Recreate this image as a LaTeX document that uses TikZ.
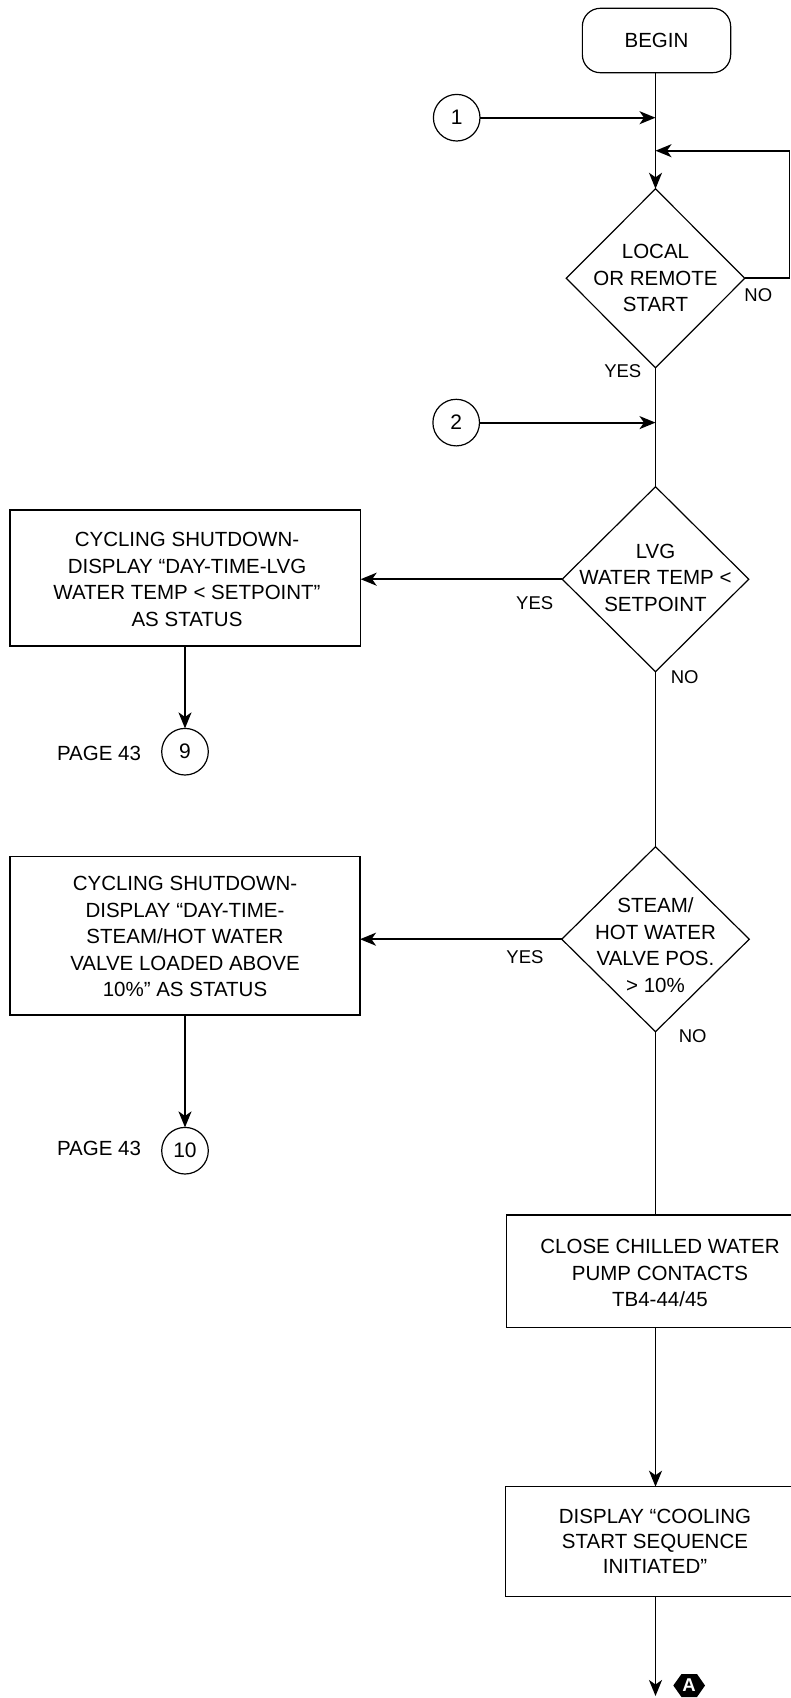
\documentclass[tikz,border=0pt]{standalone}
\usepackage{fontspec}
\setmainfont{Liberation Sans}
\usetikzlibrary{shapes.geometric,arrows.meta}
\begin{document}
\begin{tikzpicture}[x=1pt,y=-1pt,
  every node/.style={inner sep=0pt, outer sep=0pt},
  txt/.style={align=center, font=\fontsize{20.5}{26.5}\selectfont},
  txtb/.style={align=center, font=\fontsize{20.5}{25}\selectfont},
  lbl/.style={font=\fontsize{18.5}{22}\selectfont},
  boxs/.style={draw, line width=1.2pt, rectangle},
  dia/.style={draw, line width=1.2pt, diamond, shape aspect=1},
  circ/.style={draw, line width=1.2pt, circle, minimum size=46.6pt, font=\fontsize{21}{24}\selectfont},
  conn/.style={line width=1.8pt, -{Stealth[length=16pt,width=13pt,inset=4.5pt]}},
  plain/.style={line width=1.8pt},
]
\useasboundingbox (0,0) rectangle (791,1698);
\clip (0,0) rectangle (791,1698);

% top part
\node[boxs, rounded corners=18pt, minimum width=148.3pt, minimum height=64.4pt, txt] (begin) at (656.5,40.5) {BEGIN};
\node[circ] (c1) at (456.7,117.7) {1};
\coordinate (j1) at (655.5,117.7);
\coordinate (j2) at (655.5,150.7);
\node[dia, minimum width=178.5pt, minimum height=179pt] (d1) at (655.5,278.3) {};
\node[txt] (d1t) at (655.5,278.3) {LOCAL\\OR REMOTE\\START};
\coordinate (loopR) at (789.5,278.3);
\node[lbl] (no1) at (758.3,295) {NO};
\node[lbl] (yes1) at (622.8,370.7) {YES};

\draw[conn] (begin.south -| j1) -- (d1.north);
\draw[conn] (c1.east) -- (j1);
\draw[conn] (d1.east) -- (loopR) |- (j2);

% second decision
\node[circ] (c2) at (456.2,422.6) {2};
\coordinate (j3) at (655.5,422.6);
\draw[conn] (c2.east) -- (j3);
\node[dia, minimum width=186.5pt, minimum height=185pt] (d2) at (655.5,579.2) {};
\node[txt] (d2t) at (655.5,577.5) {LVG\\WATER TEMP <\\SETPOINT};
\draw[plain] (d1.south) -- (d2.north);
\node[lbl] (yes2) at (534.7,603.3) {YES};
\node[lbl] (no2) at (684.7,676.7) {NO};

\node[boxs, minimum width=350.7pt, minimum height=136pt] (b1) at (185.3,578) {};
\node[txt] (b1t) at (187,579.5) {CYCLING SHUTDOWN-\\DISPLAY “DAY-TIME-LVG\\WATER TEMP < SETPOINT”\\AS STATUS};
\draw[conn] (d2.west) -- (b1.east |- d2.west);
\node[circ] (c9) at (185,751.7) {9};
\draw[conn] (b1.south -| c9) -- (c9.north);
\node[txt, anchor=east] (p9) at (141,753) {PAGE 43};

% third decision
\node[dia, minimum width=187.5pt, minimum height=185pt] (d3) at (655.5,939.2) {};
\node[txt] (d3t) at (655.5,945) {STEAM/\\HOT WATER\\VALVE POS.\\> 10\%};
\draw[plain] (d2.south) -- (d3.north);
\node[lbl] (yes3) at (525,956.7) {YES};
\node[lbl] (no3) at (692.7,1036) {NO};

\node[boxs, minimum width=350pt, minimum height=158.3pt] (b2) at (185,935.8) {};
\node[txt] (b2t) at (185,936.6) {CYCLING SHUTDOWN-\\DISPLAY “DAY-TIME-\\STEAM/HOT WATER\\VALVE LOADED ABOVE\\10\%” AS STATUS};
\draw[conn] (d3.west) -- (b2.east |- d3.west);
\node[circ] (c10) at (185,1150.7) {10};
\draw[conn] (b2.south -| c10) -- (c10.north);
\node[txt, anchor=east] (p10) at (141,1148.3) {PAGE 43};

% bottom boxes
\node[boxs, minimum width=306.3pt, minimum height=112.7pt] (b3) at (659.9,1271.4) {};
\node[txt] (b3t) at (660,1273.3) {CLOSE CHILLED WATER\\PUMP CONTACTS\\TB4-44/45};
\draw[plain] (d3.south) -- (d3.south |- b3.north);

\node[boxs, minimum width=299.3pt, minimum height=110pt] (b4) at (655.4,1541.7) {};
\node[txtb] (b4t) at (655,1541.7) {DISPLAY “COOLING\\START SEQUENCE\\INITIATED”};
\draw[conn] (b3.south -| d3.south) -- (b4.north -| d3.south);

\coordinate (endA) at (655.5,1696);
\draw[conn] (b4.south -| endA) -- (endA);

% off-page connector A
\fill (673.3,1685.5) -- (681.5,1674) -- (697,1674) -- (705,1685.5) -- (697,1697) -- (681.5,1697) -- cycle;
\node[text=white, font=\fontsize{18.5}{20}\selectfont\bfseries] (hexA) at (689,1685.5) {A};
\end{tikzpicture}
\end{document}
